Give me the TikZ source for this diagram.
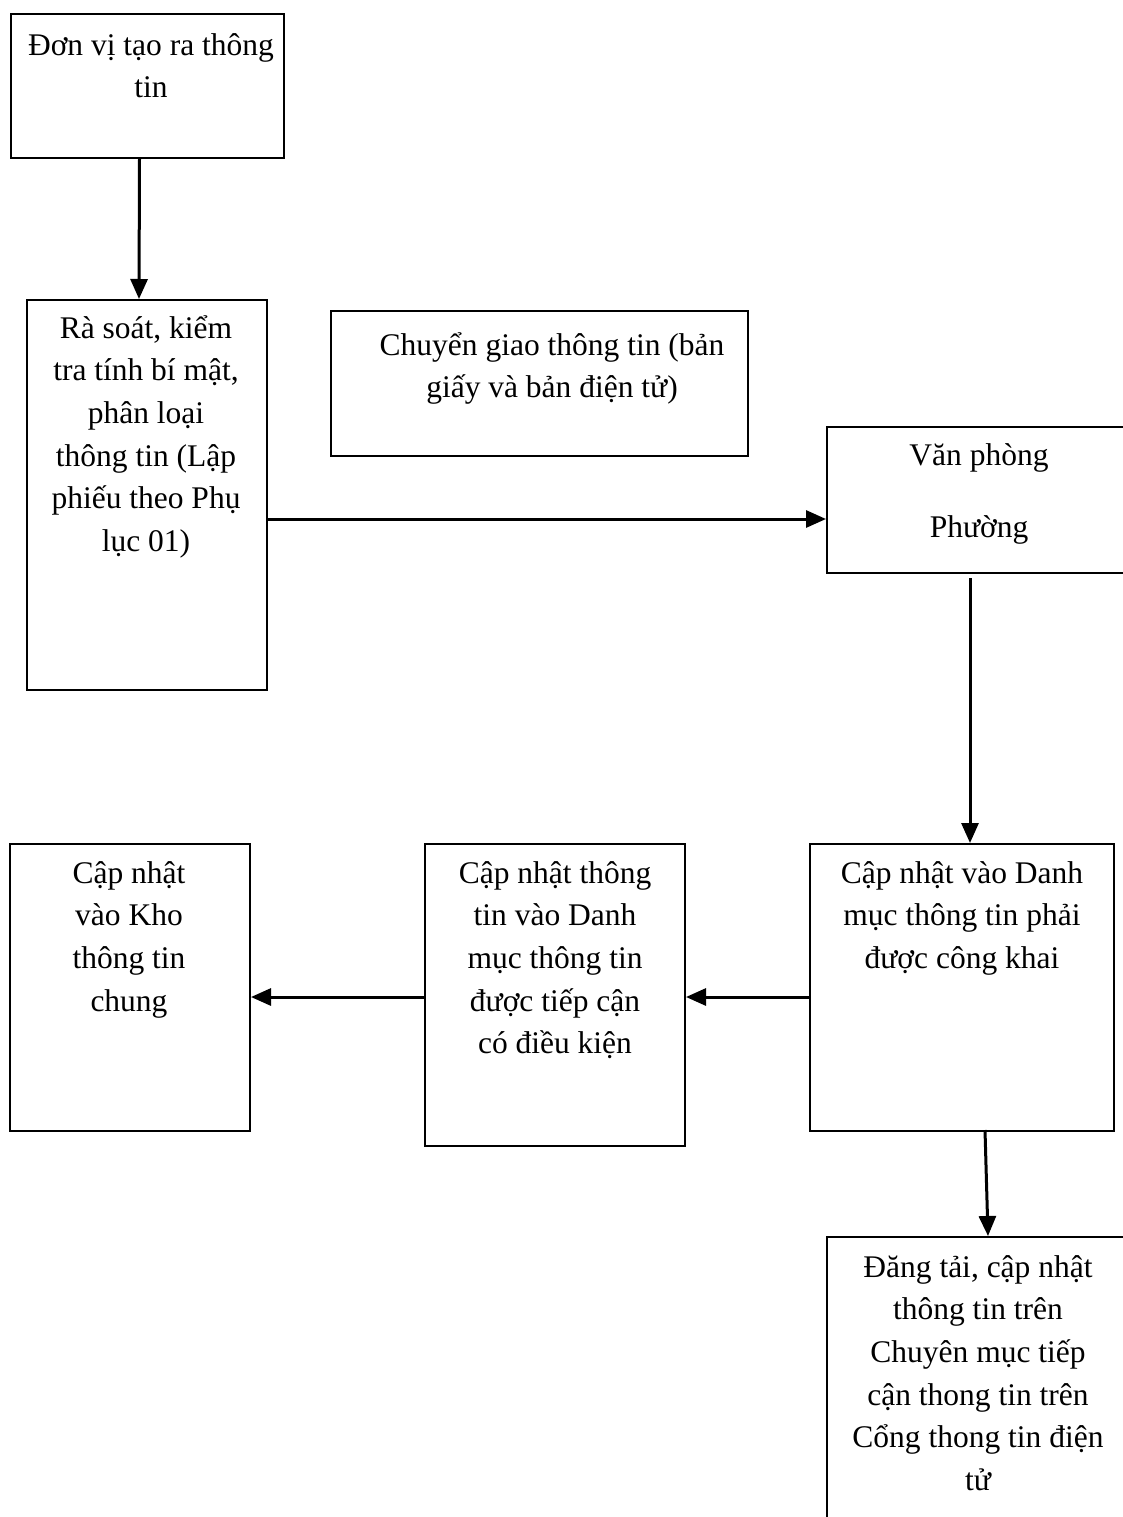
\documentclass[tikz,border=0pt]{standalone}
\usepackage{fontspec}
\setmainfont{Liberation Serif}
\usetikzlibrary{arrows.meta}

\tikzset{
    box/.style={draw, line width=2pt, anchor=north west, inner sep=0pt},
    txt/.style={anchor=north, align=center, inner sep=0pt, font=\fontsize{31.5}{42.6}\selectfont},
    arr/.style={line width=3pt, -{Triangle[length=20pt,width=17pt]}}
}
\newcommand{\tstrut}{\rule{0pt}{34pt}}

\begin{document}
\begin{tikzpicture}[x=1pt, y=-1pt]

    \useasboundingbox (0,0) rectangle (1123,1517);

    %% Boxes

    % Top row
    \node[box, minimum width=273, minimum height=144] (src) at (10,13) {};
    \node[box, minimum width=240, minimum height=390] (check) at (26,299) {};
    \node[box, minimum width=417, minimum height=145] (transfer) at (330,310) {};
    \node[box, minimum width=320, minimum height=146] (office) at (826,426) {};

    % Bottom row
    \node[box, minimum width=304, minimum height=287] (public) at (809,843) {};
    \node[box, minimum width=260, minimum height=302] (cond) at (424,843) {};
    \node[box, minimum width=240, minimum height=287] (store) at (9,843) {};
    \node[box, minimum width=320, minimum height=300] (post) at (826,1236) {};

    %% Texts

    \node[txt] (srctext) at (151,21) {\tstrut Đơn vị tạo ra thông\\ tin};
    \node[txt] (checktext) at (146,304) {\tstrut Rà soát, kiểm\\ tra tính bí mật,\\ phân loại\\ thông tin (Lập\\ phiếu theo Phụ\\ lục 01)};
    \node[txt] (transfertext) at (552,321) {\tstrut Chuyển giao thông tin (bản\\ giấy và bản điện tử)};
    \node[txt] (officetext) at (979,431) {\tstrut Văn phòng\\[30pt] Phường};
    \node[txt] (publictext) at (962,849) {\tstrut Cập nhật vào Danh\\ mục thông tin phải\\ được công khai};
    \node[txt] (condtext) at (555,849) {\tstrut Cập nhật thông\\ tin vào Danh\\ mục thông tin\\ được tiếp cận\\ có điều kiện};
    \node[txt] (storetext) at (129,849) {\tstrut Cập nhật\\ vào Kho\\ thông tin\\ chung};
    \node[txt] (posttext) at (978,1243) {\tstrut Đăng tải, cập nhật\\ thông tin trên\\ Chuyên mục tiếp\\ cận thong tin trên\\ Cổng thong tin điện\\ tử};

    %% Arrows

    \coordinate (row) at (0,997);
    \coordinate (officeout) at (970,578);
    \coordinate (pubout) at (985,1130);
    \coordinate (postin) at (988,1236);

    \draw[arr] ([xshift=-8pt]src.south) -- ([xshift=-8pt]check.north);
    \draw[arr] ([yshift=-24pt]check.east) -- ([yshift=-24pt]check.east -| office.west);
    \draw[arr] (officeout) -- (officeout |- public.north);
    \draw[arr] (public.west |- row) -- (cond.east |- row);
    \draw[arr] (cond.west |- row) -- (store.east |- row);
    \draw[arr] (pubout) -- (postin);

\end{tikzpicture}
\end{document}
